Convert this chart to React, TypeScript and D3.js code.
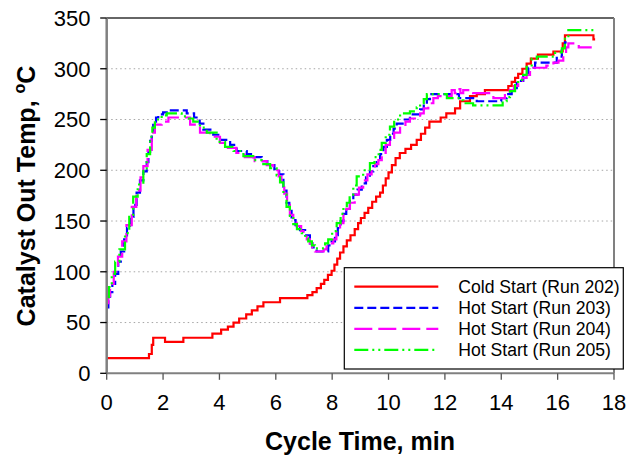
import React from 'react';
import * as d3 from 'd3';

// Cycle time (min) and catalyst outlet temperature (°C) for each run, step-wise samples
const run202: [number, number][] = [
  [0, 15], [1.5, 19], [1.6, 28], [1.65, 35], [2.07, 31], [2.72, 35], [3.75, 39], [4.06, 43],
  [4.3, 46], [4.5, 50], [4.7, 54], [4.95, 58], [5.15, 62], [5.35, 66], [5.56, 70], [6.15, 74],
  [7.12, 77], [7.3, 80], [7.45, 84], [7.6, 88], [7.72, 92], [7.85, 97], [7.98, 101], [8.08, 107],
  [8.18, 113], [8.28, 119], [8.4, 125], [8.52, 131], [8.65, 136], [8.8, 142], [8.92, 148],
  [9.02, 153], [9.15, 158], [9.28, 163], [9.42, 169], [9.56, 174], [9.7, 178], [9.8, 185],
  [9.9, 192], [10.0, 198], [10.12, 205], [10.25, 212], [10.4, 217], [10.6, 221], [10.8, 225],
  [11.0, 230], [11.15, 236], [11.3, 242], [11.45, 248], [11.85, 252], [12.05, 256], [12.36, 261],
  [12.54, 268], [12.89, 273], [13.13, 275], [13.42, 279], [14.25, 283], [14.37, 287], [14.49, 291],
  [14.6, 295], [14.75, 300], [14.9, 305], [15.05, 310], [15.3, 314], [15.85, 317], [16.18, 325],
  [16.26, 333], [17.27, 329], [17.33, 329],
];

const run203: [number, number][] = [
  [0, 65], [0.06, 72], [0.12, 80], [0.2, 88], [0.3, 98], [0.41, 110], [0.5, 120], [0.62, 132],
  [0.72, 143], [0.83, 154], [0.95, 166], [1.06, 178], [1.18, 190], [1.3, 199], [1.42, 208],
  [1.48, 218], [1.54, 229], [1.6, 238], [1.65, 246], [1.75, 252], [1.83, 255], [2.0, 257],
  [2.19, 259], [2.84, 256], [3.1, 252], [3.3, 246], [3.43, 240], [3.78, 235], [4.02, 230],
  [4.38, 225], [4.61, 219], [4.97, 216], [5.2, 213], [5.5, 209], [5.7, 205], [5.95, 201],
  [6.12, 196], [6.27, 180], [6.38, 168], [6.48, 160], [6.56, 151], [6.7, 146], [6.86, 141],
  [7.04, 136], [7.21, 128], [7.3, 124], [7.45, 120], [7.86, 126], [7.98, 130], [8.1, 136],
  [8.2, 143], [8.3, 150], [8.4, 157], [8.5, 163], [8.63, 170], [8.75, 176], [8.9, 181],
  [9.05, 187], [9.2, 193], [9.34, 199], [9.46, 204], [9.58, 208], [9.7, 216], [9.82, 223],
  [9.94, 230], [10.06, 236], [10.18, 241], [10.29, 246], [10.5, 250], [10.76, 255], [11.12, 260],
  [11.25, 265], [11.36, 270], [11.47, 275], [12.5, 271], [13.13, 268], [14.0, 271], [14.19, 275],
  [14.37, 281], [14.55, 288], [14.78, 294], [14.96, 301], [15.2, 306], [15.97, 312], [16.15, 320],
  [16.26, 326], [16.32, 326],
];

const run204: [number, number][] = [
  [0, 69], [0.06, 76], [0.12, 88], [0.25, 100], [0.4, 115], [0.55, 130], [0.7, 146], [0.89, 164],
  [1.05, 180], [1.2, 193], [1.3, 204], [1.45, 220], [1.6, 237], [1.71, 245], [1.95, 248],
  [2.19, 252], [2.96, 245], [3.31, 237], [3.67, 233], [4.02, 227], [4.3, 222], [4.6, 217],
  [4.9, 213], [5.25, 209], [5.68, 205], [5.91, 200], [6.1, 194], [6.2, 186], [6.3, 177],
  [6.4, 166], [6.5, 156], [6.62, 150], [6.74, 145], [6.9, 140], [6.98, 136], [7.1, 132],
  [7.21, 128], [7.3, 124], [7.39, 120], [7.7, 122], [7.8, 125], [7.92, 128], [8.04, 132],
  [8.15, 140], [8.28, 148], [8.4, 156], [8.5, 162], [8.63, 168], [8.8, 176], [8.95, 183],
  [9.1, 190], [9.25, 196], [9.4, 201], [9.52, 206], [9.64, 210], [9.76, 217], [9.9, 225],
  [10.05, 232], [10.2, 237], [10.41, 243], [10.6, 248], [10.76, 251], [11.12, 256], [11.25, 261],
  [11.41, 266], [11.59, 271], [11.75, 273], [12.24, 279], [12.35, 276], [12.45, 280], [12.55, 276],
  [12.65, 279], [13.0, 276], [13.72, 271], [14.13, 276], [14.3, 279], [14.45, 283], [14.6, 288],
  [14.75, 291], [14.9, 294], [15.02, 298], [15.14, 301], [15.6, 303], [15.85, 306], [16.03, 308],
  [16.2, 315], [16.3, 321], [16.38, 325], [16.75, 321], [17.21, 321],
];

const run205: [number, number][] = [
  [0, 75], [0.08, 85], [0.18, 98], [0.3, 110], [0.45, 122], [0.65, 138], [0.8, 156], [0.94, 174],
  [1.1, 186], [1.3, 202], [1.42, 216], [1.54, 233], [1.62, 242], [1.71, 250], [1.95, 254],
  [2.13, 256], [2.66, 253], [2.84, 251], [3.07, 248], [3.31, 242], [3.55, 237], [3.9, 228],
  [4.2, 223], [4.5, 219], [4.85, 214], [5.2, 210], [5.5, 206], [5.8, 202], [6.03, 195],
  [6.15, 188], [6.27, 176], [6.38, 164], [6.5, 155], [6.62, 147], [6.75, 142], [6.92, 138],
  [7.05, 133], [7.15, 130], [7.28, 126], [7.39, 123], [7.63, 123], [7.75, 128], [7.86, 132],
  [8.0, 140], [8.16, 148], [8.3, 157], [8.4, 163], [8.52, 168], [8.62, 176], [8.75, 185],
  [8.87, 194], [9.1, 200], [9.34, 207], [9.5, 213], [9.65, 220], [9.76, 227], [9.9, 235],
  [10.05, 243], [10.2, 250], [10.41, 256], [10.76, 258], [11.0, 262], [11.12, 266], [11.25, 270],
  [11.36, 275], [12.07, 271], [12.54, 269], [12.66, 266], [13.0, 264], [14.05, 268], [14.19, 272],
  [14.31, 278], [14.49, 284], [14.6, 289], [14.73, 294], [14.9, 302], [15.08, 310], [15.26, 312],
  [15.91, 316], [16.15, 320], [16.26, 332], [16.38, 338], [17.27, 338],
];

const xTicks = [0, 2, 4, 6, 8, 10, 12, 14, 16, 18];
const yTicks = [0, 50, 100, 150, 200, 250, 300, 350];
const legendLabels = [
  'Cold Start (Run 202)',
  'Hot Start (Run 203)',
  'Hot Start (Run 204)',
  'Hot Start (Run 205)',
];

const W = 636;
const H = 457;
const plot = { left: 106.7, right: 614, top: 18, bottom: 373.3 };
const FONT = 'Arial, "Liberation Sans", sans-serif';

const seriesStyles = [
  { color: '#FF0000', dash: undefined as string | undefined },
  { color: '#0000FF', dash: '9,4' },
  { color: '#FF00FF', dash: '18,6' },
  { color: '#00FF00', dash: '14,4,2,4,2,4' },
];

export default function App() {
  const x = d3.scaleLinear().domain([0, 18]).range([plot.left, plot.right]);
  const y = d3.scaleLinear().domain([0, 350]).range([plot.bottom, plot.top]);
  const line = d3
    .line<[number, number]>()
    .x((d) => x(d[0]))
    .y((d) => y(d[1]))
    .curve(d3.curveStepAfter);

  const series = [run202, run203, run204, run205];

  const legend = { x: 344.3, y: 267.7, w: 279, h: 101.3 };
  const rowY = [286.7, 307.8, 328.8, 349.9];

  return (
    <svg
      width={W}
      height={H}
      style={{ position: 'absolute', left: 0, top: 0, background: '#fff' }}
      fontFamily={FONT}
    >
      <rect x={0} y={0} width={W} height={H} fill="#fff" />

      {/* dotted horizontal gridlines */}
      {yTicks
        .filter((t) => t > 0 && t < 350)
        .map((t) => (
          <line
            key={`g${t}`}
            x1={plot.left}
            x2={plot.right}
            y1={y(t)}
            y2={y(t)}
            stroke="#a6a6a6"
            strokeWidth={1}
            strokeDasharray="1.5,3"
          />
        ))}

      {/* plot frame: top and right */}
      <line x1={plot.left} x2={plot.right} y1={plot.top} y2={plot.top} stroke="#333" strokeWidth={1.3} />
      <line x1={plot.right} x2={plot.right} y1={plot.top} y2={plot.bottom} stroke="#808080" strokeWidth={2} />

      {/* data series */}
      {series.map((s, i) => (
        <path
          key={`s${i}`}
          d={line(s) || ''}
          fill="none"
          stroke={seriesStyles[i].color}
          strokeWidth={2.2}
          strokeDasharray={seriesStyles[i].dash}
        />
      ))}

      {/* y axis */}
      <line x1={plot.left} x2={plot.left} y1={plot.top} y2={plot.bottom} stroke="#808080" strokeWidth={2.5} />
      {yTicks.map((t) => (
        <g key={`y${t}`}>
          <line x1={plot.left - 6.5} x2={plot.left} y1={y(t)} y2={y(t)} stroke="#000" strokeWidth={1.3} />
          <text x={90.5} y={y(t) + 7.8} fontSize={22} textAnchor="end" fill="#000">
            {t}
          </text>
        </g>
      ))}

      {/* x axis */}
      <line x1={plot.left} x2={plot.right} y1={plot.bottom} y2={plot.bottom} stroke="#808080" strokeWidth={2} />
      {xTicks.map((t) => (
        <g key={`x${t}`}>
          <line x1={x(t)} x2={x(t)} y1={plot.bottom} y2={plot.bottom + 6.5} stroke="#555" strokeWidth={1.3} />
          <text x={x(t)} y={410} fontSize={22} textAnchor="middle" fill="#000">
            {t}
          </text>
        </g>
      ))}

      {/* axis titles */}
      <text x={360} y={450} fontSize={25} fontWeight="bold" textAnchor="middle" fill="#000">
        Cycle Time, min
      </text>
      <text
        transform="translate(35,196) rotate(-90)"
        fontSize={25}
        fontWeight="bold"
        textAnchor="middle"
        fill="#000"
      >
        Catalyst Out Temp,{' '}
        <tspan fontSize={16} dy={-10}>o</tspan>
        <tspan dy={10}>C</tspan>
      </text>

      {/* legend */}
      <rect
        x={legend.x}
        y={legend.y}
        width={legend.w}
        height={legend.h}
        fill="#fff"
        stroke="#000"
        strokeWidth={1.2}
      />
      {legendLabels.map((label, i) => (
        <g key={`l${i}`}>
          <line
            x1={354.3}
            x2={438.3}
            y1={rowY[i]}
            y2={rowY[i]}
            stroke={seriesStyles[i].color}
            strokeWidth={2.2}
            strokeDasharray={seriesStyles[i].dash}
          />
          <text x={458.3} y={rowY[i] + 6.5} fontSize={17.6} fill="#000">
            {label}
          </text>
        </g>
      ))}
    </svg>
  );
}
